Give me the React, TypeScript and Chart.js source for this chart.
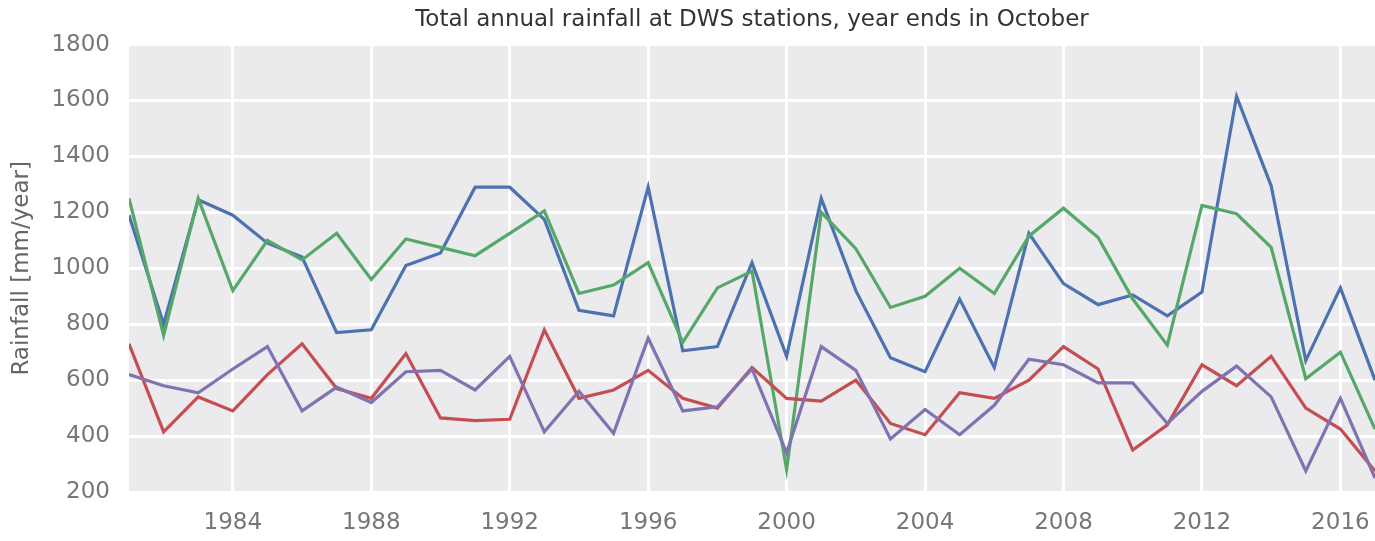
import React, { useEffect, useRef } from "react";
import { Chart, registerables } from "chart.js";

Chart.register(...registerables);

const titleText = "Total annual rainfall at DWS stations, year ends in October";
const yAxisLabel = "Rainfall [mm/year]";

const years = [
  1981, 1982, 1983, 1984, 1985, 1986, 1987, 1988, 1989, 1990,
  1991, 1992, 1993, 1994, 1995, 1996, 1997, 1998, 1999, 2000,
  2001, 2002, 2003, 2004, 2005, 2006, 2007, 2008, 2009, 2010,
  2011, 2012, 2013, 2014, 2015, 2016, 2017,
];

const blueSeries = [
  1190, 800, 1245, 1190, 1090, 1040, 770, 780, 1010, 1055,
  1290, 1290, 1175, 850, 830, 1290, 705, 720, 1020, 685,
  1250, 920, 680, 630, 890, 645, 1125, 945, 870, 905,
  830, 915, 1615, 1295, 670, 930, 600,
];

const greenSeries = [
  1250, 760, 1250, 920, 1100, 1030, 1125, 960, 1105, 1075,
  1045, 1125, 1205, 910, 940, 1020, 735, 930, 990, 280,
  1200, 1070, 860, 900, 1000, 910, 1115, 1215, 1110, 890,
  725, 1225, 1195, 1075, 605, 700, 425,
];

const redSeries = [
  730, 415, 540, 490, 620, 730, 570, 535, 695, 465,
  455, 460, 780, 535, 565, 635, 535, 500, 645, 535,
  525, 600, 445, 405, 555, 535, 600, 720, 640, 350,
  440, 655, 580, 685, 500, 425, 275,
];

const purpleSeries = [
  620, 580, 555, 640, 720, 490, 575, 520, 630, 635,
  565, 685, 415, 560, 410, 750, 490, 505, 640, 340,
  720, 635, 390, 495, 405, 510, 675, 655, 590, 590,
  445, 560, 650, 540, 275, 535, 250,
];

const xTickValues = [1984, 1988, 1992, 1996, 2000, 2004, 2008, 2012, 2016];
const yTickValues = [200, 400, 600, 800, 1000, 1200, 1400, 1600, 1800];

const toPoints = (vals: number[]) => vals.map((v, i) => ({ x: years[i], y: v }));

const bgPlugin = {
  id: "plotBg",
  beforeDraw(chart: any) {
    const { ctx, chartArea } = chart;
    ctx.save();
    ctx.fillStyle = "#EBEBEE";
    ctx.fillRect(chartArea.left, chartArea.top, chartArea.right - chartArea.left, chartArea.bottom - chartArea.top);
    ctx.restore();
  },
};

export default function App() {
  const canvasRef = useRef<HTMLCanvasElement | null>(null);

  useEffect(() => {
    document.body.style.margin = "0";
    const canvas = canvasRef.current;
    if (!canvas) return;
    const font = "'DejaVu Sans', sans-serif";
    const chart = new Chart(canvas, {
      type: "line",
      data: {
        datasets: [
          { label: "blue", data: toPoints(blueSeries), borderColor: "#4C72B0", order: 4 },
          { label: "green", data: toPoints(greenSeries), borderColor: "#55A868", order: 3 },
          { label: "red", data: toPoints(redSeries), borderColor: "#C44E52", order: 2 },
          { label: "purple", data: toPoints(purpleSeries), borderColor: "#8172B2", order: 1 },
        ].map((d) => ({
          ...d,
          borderWidth: 3.2,
          pointRadius: 0,
          fill: false,
          tension: 0,
        })),
      },
      options: {
        animation: false,
        responsive: false,
        maintainAspectRatio: false,
        layout: { padding: { left: 0, right: 0, top: 0, bottom: 0 } },
        plugins: {
          legend: { display: false },
          tooltip: { enabled: false },
          title: {
            display: true,
            text: titleText,
            fullSize: false,
            color: "#333333",
            font: { family: font, size: 23, weight: "normal", lineHeight: 1.2 },
            padding: { top: 6, bottom: 11 },
          },
        },
        scales: {
          x: {
            type: "linear",
            min: 1981,
            max: 2017,
            afterBuildTicks: (scale: any) => {
              scale.ticks = xTickValues.map((v) => ({ value: v }));
            },
            afterFit: (scale: any) => {
              scale.height = 49;
              scale.paddingLeft = 0;
              scale.paddingRight = 0;
            },
            border: { display: false },
            grid: { color: "#FFFFFF", lineWidth: 3, drawTicks: false },
            ticks: {
              color: "#777777",
              font: { family: font, size: 23 },
              padding: 17,
              maxRotation: 0,
              autoSkip: false,
              callback: (v: any) => String(v),
            },
          },
          y: {
            type: "linear",
            min: 200,
            max: 1800,
            afterBuildTicks: (scale: any) => {
              scale.ticks = yTickValues.map((v) => ({ value: v }));
            },
            afterFit: (scale: any) => {
              scale.width = 129;
              scale.paddingTop = 0;
              scale.paddingBottom = 0;
            },
            border: { display: false },
            grid: { color: "#FFFFFF", lineWidth: 3, drawTicks: false },
            ticks: {
              color: "#777777",
              font: { family: font, size: 23 },
              padding: 19,
              callback: (v: any) => String(v),
            },
            title: {
              display: true,
              text: yAxisLabel,
              color: "#666666",
              font: { family: font, size: 23, lineHeight: 1.2 },
              padding: { top: 8, bottom: 0 },
            },
          },
        },
      },
      plugins: [bgPlugin],
    } as any);
    return () => chart.destroy();
  }, []);

  return (
    <div style={{ width: 1375, height: 541 }}>
      <canvas ref={canvasRef} width={1375} height={541} style={{ display: "block" }} />
    </div>
  );
}
